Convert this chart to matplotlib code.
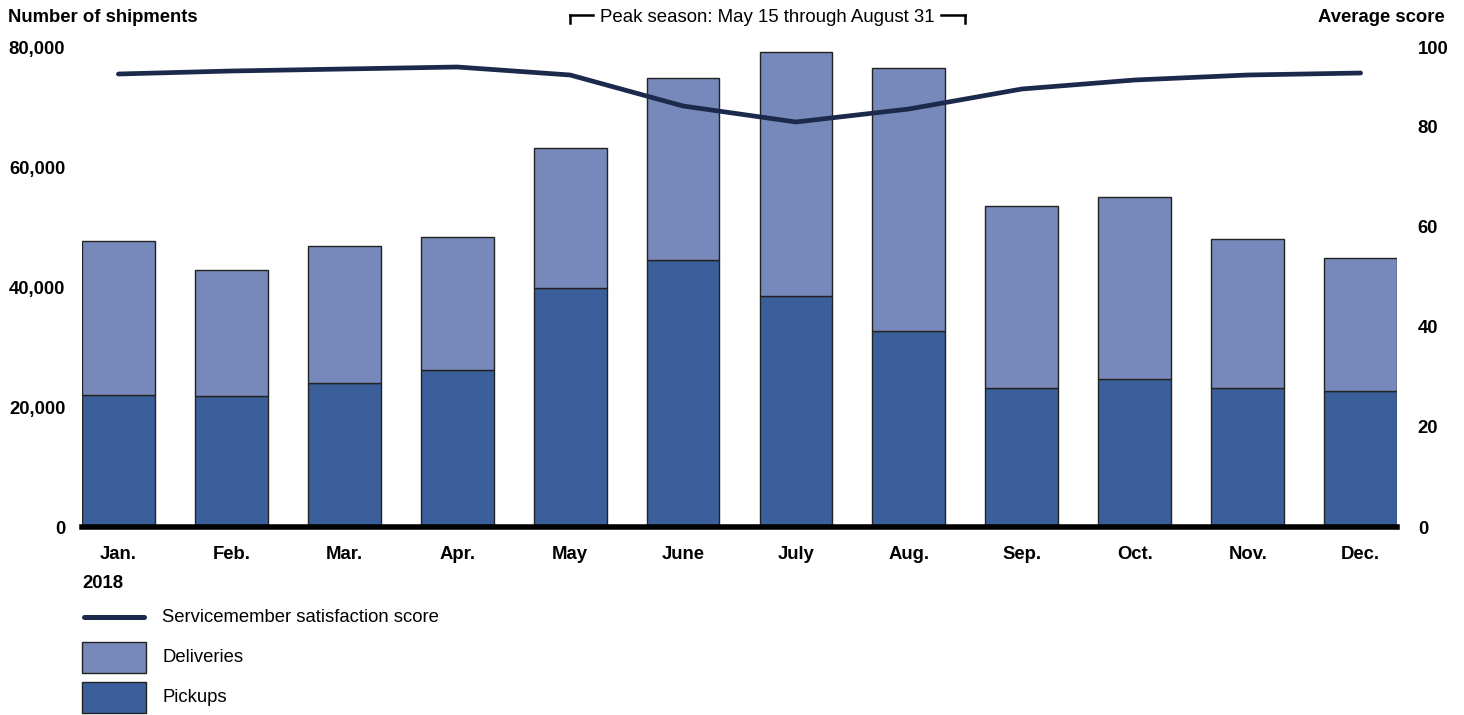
"""Monthly shipments (pickups / deliveries) with satisfaction score, 2018."""
import matplotlib.pyplot as plt
from matplotlib.patches import Rectangle
from matplotlib.lines import Line2D
from matplotlib.transforms import blended_transform_factory

plt.rcParams['font.family'] = ['Liberation Sans', 'DejaVu Sans']

months = ['Jan.', 'Feb.', 'Mar.', 'Apr.', 'May', 'June', 'July', 'Aug.', 'Sep.', 'Oct.', 'Nov.', 'Dec.']
pickups = [22000, 21900, 24000, 26200, 39900, 44600, 38600, 32700, 23200, 24700, 23200, 22700]
totals = [47800, 42900, 46900, 48400, 63300, 75000, 79300, 76600, 53600, 55100, 48100, 44900]
deliveries = [t - p for t, p in zip(totals, pickups)]
scores = [90.6, 91.2, 91.6, 92.0, 90.4, 84.2, 81.0, 83.6, 87.6, 89.4, 90.4, 90.8]

c_pick = '#3a5f9b'
c_deliv = '#7789ba'
c_line = '#1b2a4c'
edge = '#222222'
fs = 13.3

fig = plt.figure(figsize=(14.64, 7.15), dpi=100)
ax = fig.add_axes([82 / 1464, 1 - 527 / 715, (1397 - 82) / 1464, (527 - 48) / 715])
ax2 = ax.twinx()

w = 0.645
x = list(range(len(months)))
ax.bar(x, pickups, width=w, color=c_pick, edgecolor=edge, linewidth=1, zorder=2)
ax.bar(x, deliveries, bottom=pickups, width=w, color=c_deliv, edgecolor=edge, linewidth=1, zorder=2)
ax.set_xlim(-w / 2, len(months) - 1 + w / 2)
ax.set_ylim(0, 80000)
ax.set_yticks([0, 20000, 40000, 60000, 80000])
ax.set_yticklabels([f'{v:,}' for v in ax.get_yticks().astype(int)])
ax.set_xticks(x)
ax.set_xticklabels(months)

ax2.plot(x, scores, color=c_line, lw=3.4, solid_capstyle='round', solid_joinstyle='round', zorder=3)
# right scale: 20 points per 100 px; the "100" label sits at the top edge
top = 100 * 479 / 500
ax2.set_ylim(0, top)
ax2.set_yticks([0, 20, 40, 60, 80, top])
ax2.set_yticklabels(['0', '20', '40', '60', '80', '100'])

for a in (ax, ax2):
    for s in a.spines.values():
        s.set_visible(False)
    a.tick_params(length=0, labelsize=fs)
    for lab in a.get_xticklabels() + a.get_yticklabels():
        lab.set_fontweight('bold')
ax.tick_params(axis='y', pad=12)
ax.tick_params(axis='x', pad=14)
ax2.tick_params(axis='y', pad=15)
ax2.set_zorder(ax.get_zorder() + 1)
ax2.patch.set_visible(False)

# thick baseline
ax.axhline(0, color='black', lw=4, zorder=4, clip_on=False)

# axis titles
fig.text(8 / 1464, 1 - 17 / 715, 'Number of shipments', fontsize=fs, fontweight='bold', va='center', ha='left')
fig.text(1445 / 1464, 1 - 17 / 715, 'Average score', fontsize=fs, fontweight='bold', va='center', ha='right')

# peak season bracket, May 15 through August 31
bt = blended_transform_factory(ax.transData, fig.transFigure)
yb = 1 - 15 / 715
bx0, bx1 = 4, 7.5
ax.text((bx0 + bx1) / 2, 1 - 17 / 715, 'Peak season: May 15 through August 31', transform=bt,
        ha='center', va='center', fontsize=13.4, clip_on=False)
tick = 8 / 715
for xa, xb in [(bx0, bx0 + 0.2), (bx1 - 0.22, bx1)]:
    ax.add_line(Line2D([xa, xb], [yb, yb], transform=bt, color='black', lw=1.8, clip_on=False))
for xe in (bx0, bx1):
    ax.add_line(Line2D([xe, xe], [yb, yb - tick], transform=bt, color='black', lw=1.8, clip_on=False))

# year and legend
fig.text(82 / 1464, 1 - 583 / 715, '2018', fontsize=fs, fontweight='bold', va='center', ha='left')
fig.add_artist(Line2D([84 / 1464, 144 / 1464], [1 - 617 / 715] * 2, color=c_line, lw=3.6, solid_capstyle='round'))
fig.text(162 / 1464, 1 - 617 / 715, 'Servicemember satisfaction score', fontsize=fs, va='center', ha='left')
for y0, col, lab in [(642, c_deliv, 'Deliveries'), (682, c_pick, 'Pickups')]:
    fig.add_artist(Rectangle((82 / 1464, 1 - (y0 + 31) / 715), 64 / 1464, 31 / 715,
                             facecolor=col, edgecolor=edge, lw=1, transform=fig.transFigure))
    fig.text(162 / 1464, 1 - (y0 + 15) / 715, lab, fontsize=fs, va='center', ha='left')

fig.savefig('out.png', dpi=100)
